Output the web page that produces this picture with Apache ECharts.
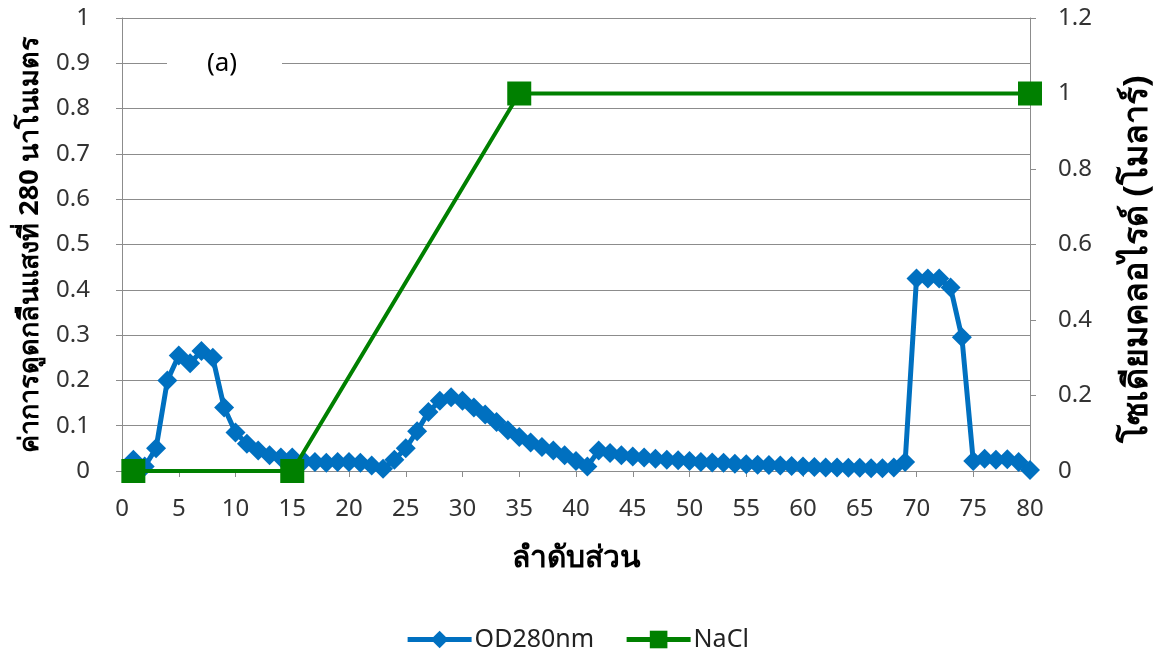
<!DOCTYPE html>
<html>
<head>
<meta charset="utf-8">
<script src="https://cdn.jsdelivr.net/npm/echarts@6/dist/echarts.min.js"></script>
<style>
  html, body { margin: 0; padding: 0; background: #fff; }
  #chart { width: 1154px; height: 657px; }
</style>
</head>
<body>
<div id="chart"></div>
<script>
// ค่า OD280 ของแต่ละส่วน (ลำดับส่วน 1..80)
const od280 = [
  0.025, 0.01, 0.05, 0.2, 0.255, 0.238, 0.265, 0.25, 0.14, 0.085,
  0.06, 0.045, 0.035, 0.03, 0.03, 0.022, 0.02, 0.018, 0.02, 0.02,
  0.018, 0.012, 0.005, 0.025, 0.05, 0.088, 0.13, 0.155, 0.163, 0.155,
  0.14, 0.125, 0.108, 0.09, 0.075, 0.063, 0.053, 0.045, 0.035, 0.022,
  0.01, 0.045, 0.04, 0.035, 0.032, 0.03, 0.027, 0.025, 0.024, 0.022,
  0.02, 0.019, 0.018, 0.016, 0.015, 0.014, 0.013, 0.012, 0.011, 0.01,
  0.009, 0.008, 0.008, 0.007, 0.007, 0.006, 0.006, 0.008, 0.02, 0.425,
  0.425, 0.425, 0.405, 0.295, 0.022, 0.027, 0.025, 0.026, 0.02, 0.002
];
// เกรเดียนต์ NaCl (โมลาร์)
const naclFraction = [1, 15, 35, 80];
const naclValue = [0, 0, 1, 1];

const odData = od280.map((v, i) => [i + 1, v]);
const naclData = naclFraction.map((f, i) => [f, naclValue[i]]);

const blue = '#0070C0';
const green = '#008000';
const gridColor = '#8C8C8C';
const font = 'Noto Sans, sans-serif';

const myChart = echarts.init(document.getElementById('chart'));

const option = {
  animation: false,
  textStyle: { fontFamily: font },
  grid: { left: 122, right: 124, top: 18, bottom: 186, outerBoundsMode: 'none' },
  legend: {
    bottom: 0,
    left: 'center',
    itemWidth: 64,
    itemHeight: 22,
    itemGap: 30,
    lineStyle: { width: 5 },
    textStyle: { fontSize: 25, color: '#222', fontFamily: font, padding: [0, 0, 0, -2] },
    data: ['OD280nm', 'NaCl']
  },
  xAxis: {
    type: 'value',
    min: 0,
    max: 80,
    interval: 5,
    name: 'ลำดับส่วน',
    nameLocation: 'middle',
    nameGap: 72,
    nameTextStyle: { fontSize: 30, fontWeight: 'bold', color: '#000' },
    axisLine: { lineStyle: { color: gridColor } },
    axisTick: { show: true, length: 6, lineStyle: { color: gridColor } },
    axisLabel: { fontSize: 24, color: '#333', margin: 26 },
    splitLine: { show: false }
  },
  yAxis: [
    {
      type: 'value',
      min: 0,
      max: 1,
      interval: 0.1,
      name: 'ค่าการดูดกลืนแสงที่ 280 นาโนเมตร',
      nameLocation: 'middle',
      nameRotate: 90,
      nameGap: 78,
      nameTextStyle: { fontSize: 27, fontWeight: 'bold', color: '#000' },
      axisLine: { show: true, lineStyle: { color: gridColor } },
      axisTick: { show: true, length: 6, lineStyle: { color: gridColor } },
      axisLabel: { fontSize: 24, color: '#333', margin: 32 },
      splitLine: { show: true, lineStyle: { color: gridColor, width: 1 } }
    },
    {
      type: 'value',
      min: 0,
      max: 1.2,
      interval: 0.2,
      position: 'right',
      name: 'โซเดียมคลอไรด์ (โมลาร์)',
      nameLocation: 'middle',
      nameRotate: 90,
      nameGap: 90,
      nameTextStyle: { fontSize: 34, fontWeight: 'bold', color: '#000', padding: [0, 30, 0, 0] },
      axisLine: { show: true, lineStyle: { color: gridColor } },
      axisTick: { show: true, length: 6, lineStyle: { color: gridColor } },
      axisLabel: { fontSize: 24, color: '#333', margin: 28 },
      splitLine: { show: false }
    }
  ],
  graphic: [
    {
      type: 'rect',
      shape: { x: 167, y: 36, width: 115, height: 58 },
      style: { fill: '#fff' },
      z: 100
    },
    {
      type: 'text',
      x: 222,
      y: 64,
      z: 101,
      style: {
        text: '(a)',
        fontSize: 26,
        fontFamily: font,
        fill: '#000',
        align: 'center',
        verticalAlign: 'middle'
      }
    }
  ],
  series: [
    {
      name: 'OD280nm',
      type: 'line',
      yAxisIndex: 0,
      data: odData,
      symbol: 'diamond',
      symbolSize: 20,
      showAllSymbol: true,
      itemStyle: { color: blue },
      lineStyle: { color: blue, width: 5 },
      z: 3
    },
    {
      name: 'NaCl',
      type: 'line',
      yAxisIndex: 1,
      data: naclData,
      symbol: 'rect',
      symbolSize: 24,
      itemStyle: { color: green },
      lineStyle: { color: green, width: 4 },
      z: 4
    }
  ]
};

myChart.setOption(option);
</script>
</body>
</html>
